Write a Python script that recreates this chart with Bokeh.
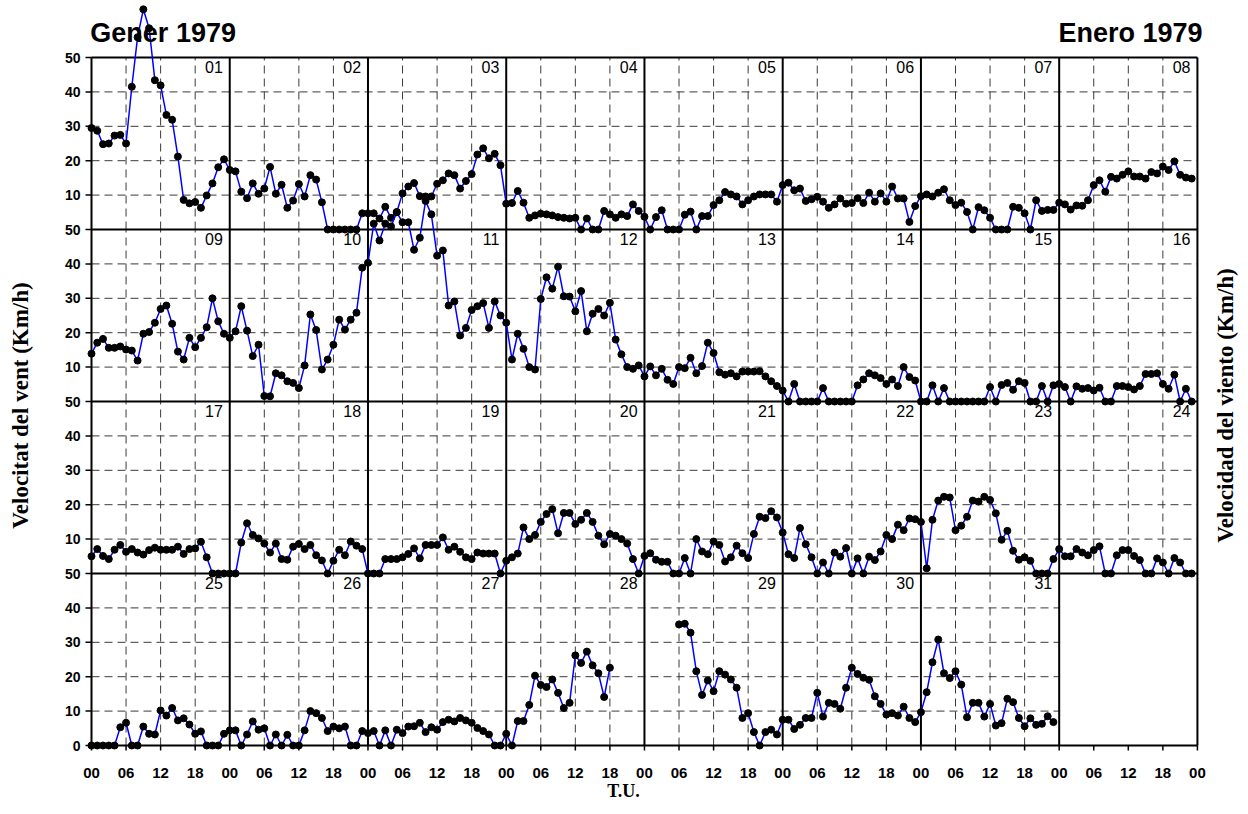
import numpy as np
from bokeh.plotting import figure
from bokeh.models import Range1d, LinearAxis, FixedTicker, Label, ColumnDataSource
from bokeh.core.properties import value
from bokeh.embed import file_html
from bokeh.resources import INLINE

# ---------------- data: hourly wind speed (km/h), January 1979 ----------------
d01 = [29.5, 28.7, 24.8, 25.0, 27.3, 27.5, 25.0, 41.5, 55.9, 64.0, 58.5, 43.4, 41.9, 33.3, 31.9, 21.2, 8.6, 7.6, 8.0, 6.3, 9.9, 13.4, 18.1, 20.4]
d02 = [17.3, 16.9, 11.0, 9.1, 13.4, 10.4, 11.9, 18.2, 10.4, 13.0, 6.3, 8.4, 13.2, 9.6, 15.8, 14.5, 7.9, 0, 0, 0, 0, 0, 0, 4.7]
d03 = [4.7, 4.7, 3.2, 6.6, 3.4, 5.1, 10.5, 12.5, 13.5, 9.7, 9.6, 9.6, 13.3, 14.3, 16.3, 15.8, 11.9, 14.1, 16.1, 21.8, 23.6, 20.7, 22.0, 18.7]
d04 = [7.5, 7.7, 11.2, 7.8, 3.4, 4.1, 4.6, 4.4, 4.1, 3.6, 3.4, 3.2, 3.4, 0, 3.2, 0, 0, 5.4, 4.4, 3.4, 4.4, 3.9, 7.3, 5.4]
d05 = [3.7, 0, 3.6, 5.6, 0, 0, 0, 4.3, 5.2, 0, 3.9, 3.9, 7.1, 8.5, 10.9, 10.2, 9.6, 7.3, 8.5, 9.6, 10.2, 10.2, 10.2, 8.1]
d06 = [12.9, 13.6, 11.4, 11.9, 8.3, 8.8, 9.5, 8.1, 6.3, 7.3, 9.0, 7.5, 7.7, 9.1, 7.7, 10.7, 8.1, 10.5, 8.1, 12.5, 9.0, 9.0, 2.2, 6.8]
d07 = [9.7, 10.2, 9.6, 10.7, 11.7, 8.5, 7.1, 7.8, 5.1, 0, 6.5, 5.6, 3.4, 0, 0, 0, 6.6, 6.3, 4.7, 0, 8.5, 5.4, 5.7, 5.7]
d08 = [7.8, 7.3, 5.8, 7.0, 6.9, 8.5, 12.9, 14.3, 11.0, 15.3, 14.8, 15.9, 16.9, 15.4, 15.4, 14.8, 16.7, 16.3, 18.3, 17.3, 19.8, 15.9, 15.1, 14.8]
d09 = [13.9, 17.1, 18.2, 15.6, 15.6, 16.0, 15.1, 14.8, 11.9, 19.7, 20.2, 22.9, 26.9, 27.9, 22.6, 14.5, 12.2, 18.5, 15.8, 18.5, 21.6, 30.0, 23.3, 19.7]
d10 = [18.5, 20.4, 27.7, 20.6, 13.2, 16.5, 1.6, 1.5, 8.2, 7.6, 5.9, 5.4, 3.9, 10.5, 25.3, 20.8, 9.3, 12.2, 16.5, 23.8, 20.9, 23.8, 25.8, 38.9]
d11 = [40.3, 51.7, 46.8, 51.7, 50.9, 55.0, 52.1, 52.1, 44.1, 47.6, 58.3, 54.4, 42.4, 43.9, 27.9, 29.1, 19.2, 21.4, 26.6, 27.7, 28.6, 21.4, 29.1, 25.0]
d12 = [22.9, 12.2, 19.7, 15.3, 10.0, 9.3, 29.8, 36.1, 32.8, 39.2, 30.6, 30.5, 26.2, 32.1, 20.4, 25.5, 26.9, 25.0, 28.7, 18.0, 13.7, 10.0, 9.5, 10.5]
d13 = [7.3, 10.2, 7.6, 9.5, 6.3, 5.1, 10.0, 9.7, 12.7, 8.2, 10.3, 17.1, 14.1, 8.5, 7.8, 8.2, 7.3, 8.7, 8.7, 8.7, 8.8, 7.3, 5.9, 4.5]
d14 = [3.2, 0, 5.1, 0, 0, 0, 0, 3.9, 0, 0, 0, 0, 0, 4.7, 6.4, 8.2, 7.6, 6.8, 5.1, 6.4, 4.5, 10.0, 7.1, 6.1]
d15 = [0, 0, 4.7, 0, 3.9, 0, 0, 0, 0, 0, 0, 0, 4.2, 0, 4.8, 5.4, 3.4, 5.9, 5.4, 0, 0, 4.5, 0, 4.7]
d16 = [5.1, 4.2, 0, 4.4, 3.7, 3.9, 3.2, 4.0, 0, 0, 4.5, 4.5, 4.2, 3.5, 4.5, 8.0, 8.0, 8.2, 5.1, 3.7, 7.8, 0, 3.7, 0]
d17 = [5.0, 7.1, 5.1, 4.2, 6.9, 8.3, 6.3, 7.1, 6.1, 5.5, 6.8, 7.5, 6.9, 6.9, 6.9, 7.8, 5.7, 7.1, 7.3, 9.2, 4.7, 0, 0, 0]
d18 = [0, 0, 9.0, 14.6, 11.2, 10.2, 8.7, 6.1, 8.7, 4.2, 4.0, 7.8, 8.6, 7.1, 8.3, 5.3, 3.8, 0, 3.7, 6.9, 5.3, 9.3, 8.1, 7.1]
d19 = [0, 0, 0, 4.2, 4.2, 4.2, 4.7, 5.7, 7.3, 4.4, 8.3, 8.3, 8.3, 10.5, 6.9, 7.8, 6.3, 4.7, 4.2, 6.1, 5.8, 5.8, 5.8, 0]
d20 = [3.7, 4.7, 5.8, 13.4, 10.0, 11.2, 15.0, 17.3, 18.7, 11.7, 17.6, 17.6, 14.4, 15.6, 17.6, 15.0, 11.0, 8.5, 11.5, 11.0, 10.0, 8.7, 4.2, 0]
d21 = [5.1, 5.9, 4.0, 3.4, 3.4, 0, 0, 4.5, 0, 10.0, 6.4, 5.6, 9.3, 8.3, 3.5, 4.7, 8.1, 5.9, 4.5, 11.5, 16.5, 16.1, 18.1, 16.3]
d22 = [11.9, 5.6, 4.5, 13.2, 8.5, 4.7, 0, 3.2, 0, 6.1, 4.9, 7.4, 0, 4.4, 0, 4.9, 3.9, 6.4, 11.2, 10.0, 14.2, 12.6, 16.0, 15.8]
d23 = [15.0, 1.5, 15.6, 21.2, 22.3, 22.1, 12.6, 13.9, 16.5, 21.2, 20.9, 22.3, 21.4, 17.5, 9.8, 12.4, 6.6, 4.0, 4.7, 3.7, 0, 0, 0, 4.2]
d24 = [7.1, 5.0, 5.0, 7.1, 6.1, 5.3, 6.8, 7.9, 0, 0, 5.3, 6.8, 6.8, 5.1, 3.9, 0, 0, 4.4, 3.2, 0, 4.5, 3.2, 0, 0]
d25 = [0, 0, 0, 0, 0, 5.3, 6.6, 0, 0, 5.5, 3.4, 3.2, 10.2, 8.7, 10.9, 7.3, 7.9, 6.1, 3.4, 4.1, 0, 0, 0, 3.4]
d26 = [4.4, 4.4, 0, 3.2, 7.0, 4.6, 5.0, 0, 3.2, 0, 3.1, 0, 0, 4.4, 10.0, 9.4, 8.0, 4.2, 5.5, 5.0, 5.5, 0, 0, 4.2]
d27 = [3.6, 4.2, 0, 4.4, 0, 4.6, 3.6, 5.5, 5.6, 6.6, 3.9, 5.3, 4.6, 6.8, 7.5, 7.0, 8.0, 7.3, 6.6, 5.1, 4.2, 3.2, 0, 0]
d28 = [3.4, 0, 7.1, 7.1, 11.8, 20.3, 17.6, 17.0, 19.2, 15.3, 10.9, 12.4, 26.2, 24.0, 27.3, 23.3, 21.0, 14.1, 22.6, None, None, None, None, None]
d29 = [None, None, None, None, None, None, 35.2, 35.4, 32.8, 21.6, 14.7, 18.9, 15.8, 21.6, 20.6, 19.2, 16.8, 8.0, 9.4, 3.9, 0, 3.9, 4.6, 3.2]
d30 = [7.5, 7.5, 4.8, 6.0, 8.0, 8.0, 15.3, 8.4, 12.4, 12.1, 10.7, 16.8, 22.6, 20.8, 19.7, 19.1, 14.3, 12.1, 9.0, 9.4, 8.7, 11.3, 8.0, 6.8]
d31 = [9.7, 15.5, 24.2, 30.8, 21.0, 19.6, 21.6, 17.7, 8.2, 12.4, 12.4, 8.4, 12.1, 5.8, 6.5, 13.6, 12.6, 8.0, 5.6, 7.9, 6.0, 6.3, 8.5, 6.8]

days = [d01, d02, d03, d04, d05, d06, d07, d08, d09, d10, d11, d12, d13, d14, d15, d16,
        d17, d18, d19, d20, d21, d22, d23, d24, d25, d26, d27, d28, d29, d30, d31]
day_names = ["01", "02", "03", "04", "05", "06", "07", "08", "09", "10", "11", "12", "13", "14", "15", "16",
             "17", "18", "19", "20", "21", "22", "23", "24", "25", "26", "27", "28", "29", "30", "31"]

x_tick_values = list(range(0, 193, 6))
x_tick_labels = ["00", "06", "12", "18"] * 8 + ["00"]
y_tick_values = list(range(0, 201, 10))
y_tick_labels = ["0", "10", "20", "30", "40", "50", "10", "20", "30", "40", "50",
                 "10", "20", "30", "40", "50", "10", "20", "30", "40", "50"]

title_left = "Gener 1979"
title_right = "Enero 1979"
ylabel_left = "Velocitat del vent (Km/h)"
ylabel_right = "Velocidad del viento (Km/h)"
xlabel = "T.U."

# ---------------- layout constants ----------------
HRS = 24
DAYS_PER_ROW = 8
N_ROWS = 4
ROW_SPAN = 50
X_MAX = HRS * DAYS_PER_ROW          # 192 hours across one row
Y_BOX = ROW_SPAN * N_ROWS           # 200 units for the 4 stacked rows
CANVAS_W = 1246
PX_PER_HOUR = 5.76
PX_PER_UNIT = 3.44
BOX_LEFT_PX = 91
BOX_BOTTOM_PX = 745
FRAME_PAD_BOTTOM = 12
FRAME_H = BOX_BOTTOM_PX + FRAME_PAD_BOTTOM
BOTTOM_B = 49
X_START = -BOX_LEFT_PX / PX_PER_HOUR
X_END = X_START + CANVAS_W / PX_PER_HOUR
Y_START = -FRAME_PAD_BOTTOM / PX_PER_UNIT
Y_TOP = BOX_BOTTOM_PX / PX_PER_UNIT

SANS = "Liberation Sans"
SERIF = "Liberation Serif"

p = figure(width=CANVAS_W, height=FRAME_H + BOTTOM_B,
           x_range=Range1d(X_START, X_END), y_range=Range1d(Y_START, Y_TOP),
           output_backend="svg", toolbar_location=None,
           x_axis_location=None, y_axis_location=None,
           min_border_left=0, min_border_right=0,
           min_border_top=0, min_border_bottom=BOTTOM_B)
p.outline_line_color = None
p.background_fill_color = "white"
p.border_fill_color = "white"
for g in p.grid:
    g.visible = False

# ---------------- grid ----------------
dash_xs, dash_ys = [], []
solid_xs, solid_ys = [], []
for r in range(N_ROWS):
    base = (N_ROWS - 1 - r) * ROW_SPAN
    ndays = min(DAYS_PER_ROW, len(days) - r * DAYS_PER_ROW)
    for k in (10, 20, 30, 40):
        dash_xs.append([0, ndays * HRS]); dash_ys.append([base + k, base + k])
    for d in range(ndays):
        for h in (6, 12, 18):
            dash_xs.append([d * HRS + h, d * HRS + h]); dash_ys.append([base, base + ROW_SPAN])
for yy in (0, 50, 100, 150, 200):
    solid_xs.append([0, X_MAX]); solid_ys.append([yy, yy])
for d in range(0, DAYS_PER_ROW + 1):
    solid_xs.append([d * HRS, d * HRS]); solid_ys.append([0, Y_BOX])

p.multi_line(dash_xs, dash_ys, line_color="#3a3a3a", line_width=1, line_dash="8 5")
p.multi_line(solid_xs, solid_ys, line_color="black", line_width=2)

# y ticks (outward) and labels on the left edge
tick_len_x = 6 / PX_PER_HOUR
p.segment(x0=[-tick_len_x] * len(y_tick_values), y0=y_tick_values,
          x1=[0] * len(y_tick_values), y1=y_tick_values, line_color="black", line_width=1.5)
p.text([-11 / PX_PER_HOUR] * len(y_tick_values), y_tick_values, text=y_tick_labels,
       text_font=value(SANS), text_font_style="bold", text_font_size="14px",
       text_align="right", text_baseline="middle", text_color="black")

# x ticks (outward) on the bottom edge
tick_len_y = 5 / PX_PER_UNIT
p.segment(x0=x_tick_values, y0=[0] * len(x_tick_values),
          x1=x_tick_values, y1=[-tick_len_y] * len(x_tick_values), line_color="black", line_width=1.5)

# ---------------- data series ----------------
for r in range(N_ROWS):
    base = (N_ROWS - 1 - r) * ROW_SPAN
    row_days = days[r * DAYS_PER_ROW:(r + 1) * DAYS_PER_ROW]
    vals = []
    for dd in row_days:
        vals.extend([np.nan if v is None else v for v in dd])
    vals = np.array(vals, dtype=float)
    xs = np.arange(len(vals), dtype=float)
    src = ColumnDataSource(dict(x=xs, y=vals + base))
    p.line("x", "y", source=src, line_color="#0000ff", line_width=1.5)
    p.scatter("x", "y", source=src, marker="circle", size=7,
              fill_color="black", line_color="black")

# ---------------- day numbers ----------------
lab_x, lab_y = [], []
for i in range(len(days)):
    r, d = divmod(i, DAYS_PER_ROW)
    base = (N_ROWS - 1 - r) * ROW_SPAN
    lab_x.append((d + 1) * HRS - 1.2)
    lab_y.append(base + ROW_SPAN - 0.9)
p.text(lab_x, lab_y, text=day_names, text_font=value(SANS), text_font_size="16px",
       text_align="right", text_baseline="top", text_color="black")

# ---------------- bottom axis (labels only) ----------------
bottom = LinearAxis(ticker=FixedTicker(ticks=x_tick_values), bounds=(0, X_MAX))
bottom.major_label_overrides = {t: s for t, s in zip(x_tick_values, x_tick_labels)}
bottom.axis_line_color = None
bottom.major_tick_line_color = None; bottom.major_tick_out = 0; bottom.major_tick_in = 0
bottom.minor_tick_line_color = None
bottom.major_label_standoff = 10
bottom.major_label_text_font = SANS; bottom.major_label_text_font_style = "bold"
bottom.major_label_text_font_size = "15px"; bottom.major_label_text_color = "black"
bottom.axis_label = xlabel
bottom.axis_label_text_font = SERIF; bottom.axis_label_text_font_style = "bold"
bottom.axis_label_text_font_size = "18px"; bottom.axis_label_standoff = 0
bottom.axis_label_text_color = "black"
p.add_layout(bottom, "below")

# ---------------- titles ----------------
p.add_layout(Label(x=-0.2, y=207.0, text=title_left, text_font=SANS, text_font_style="bold",
                   text_font_size="27px", text_align="left", text_baseline="alphabetic",
                   text_color="black"))
p.add_layout(Label(x=192.9, y=207.0, text=title_right, text_font=SANS, text_font_style="bold",
                   text_font_size="27px", text_align="right", text_baseline="alphabetic",
                   text_color="black"))
y_mid = (BOX_BOTTOM_PX - 405) / PX_PER_UNIT
p.text([(20 - BOX_LEFT_PX) / PX_PER_HOUR], [y_mid], text=[ylabel_left], angle=90, angle_units="deg",
       text_font=value(SERIF), text_font_style="bold", text_font_size="23px",
       text_align="center", text_baseline="middle", text_color="black")
p.text([(1225 - BOX_LEFT_PX) / PX_PER_HOUR], [y_mid], text=[ylabel_right], angle=90, angle_units="deg",
       text_font=value(SERIF), text_font_style="bold", text_font_size="23px",
       text_align="center", text_baseline="middle", text_color="black")

open("out.html", "w").write(file_html(p, INLINE))
